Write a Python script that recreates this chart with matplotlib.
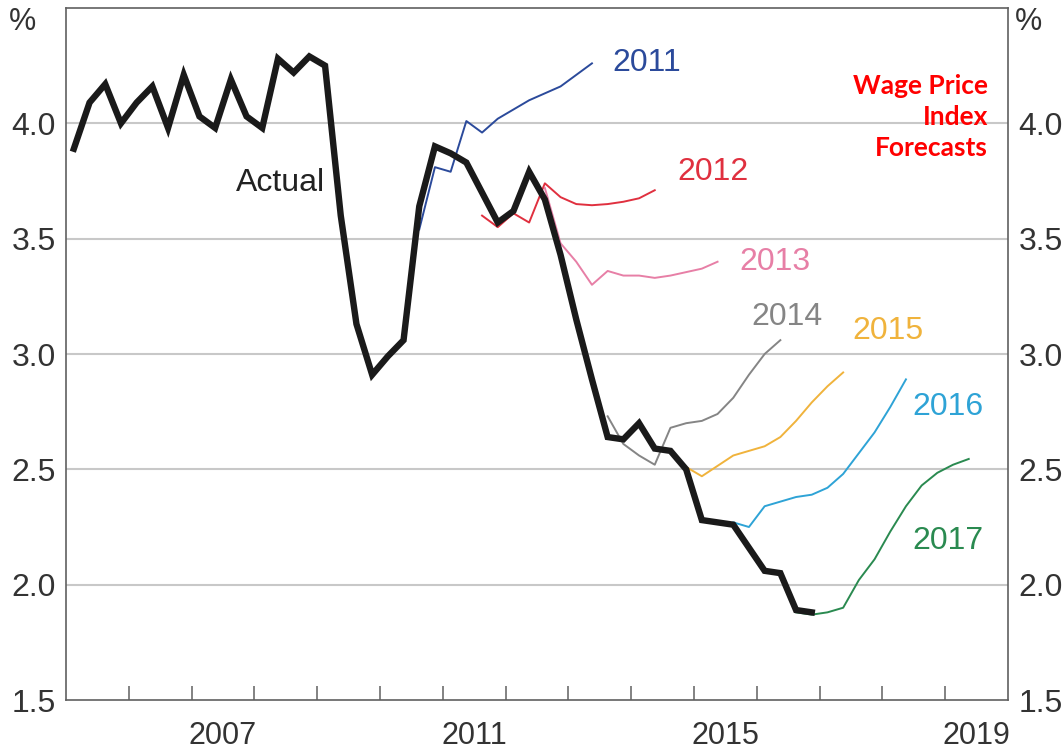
import numpy as np
import matplotlib
matplotlib.use("Agg")
import matplotlib.pyplot as plt
from matplotlib.ticker import FixedLocator

plt.rcParams['font.family'] = ['Liberation Sans', 'DejaVu Sans']

# quarterly data, first quarter plotted at 2005.125
start_year = 2005.125
actual = [3.89, 4.09, 4.17, 4.00, 4.09, 4.16, 3.98, 4.21, 4.03, 3.98, 4.19, 4.03,
          3.98, 4.28, 4.22, 4.29, 4.25, 3.60, 3.13, 2.91, 2.99, 3.06, 3.64, 3.90,
          3.87, 3.83, 3.70, 3.57, 3.62, 3.79, 3.67, 3.43, 3.15, 2.89, 2.64, 2.63,
          2.70, 2.59, 2.58, 2.50, 2.28, 2.27, 2.26, 2.16, 2.06, 2.05, 1.89, 1.88]

# forecasts: (label, index of first quarter in the actual series, values)
fc_labels = ['2011', '2012', '2013', '2014', '2015', '2016', '2017']
fc_start = [22, 26, 30, 34, 38, 42, 46]
fc_2011 = [3.54, 3.81, 3.79, 4.01, 3.96, 4.02, 4.06, 4.10, 4.13, 4.16, 4.21, 4.26]
fc_2012 = [3.60, 3.55, 3.61, 3.57, 3.74, 3.68, 3.65, 3.645, 3.65, 3.66, 3.675, 3.71]
fc_2013 = [3.72, 3.48, 3.40, 3.30, 3.36, 3.34, 3.34, 3.33, 3.34, 3.355, 3.37, 3.40]
fc_2014 = [2.73, 2.61, 2.56, 2.52, 2.68, 2.70, 2.71, 2.74, 2.81, 2.91, 3.00, 3.06]
fc_2015 = [2.58, 2.51, 2.47, 2.515, 2.56, 2.58, 2.60, 2.64, 2.71, 2.79, 2.86, 2.92]
fc_2016 = [2.27, 2.25, 2.34, 2.36, 2.38, 2.39, 2.42, 2.48, 2.57, 2.66, 2.77, 2.89]
fc_2017 = [1.88, 1.87, 1.88, 1.90, 2.02, 2.11, 2.23, 2.34, 2.43, 2.485, 2.52, 2.545]
fc_values = [fc_2011, fc_2012, fc_2013, fc_2014, fc_2015, fc_2016, fc_2017]
fc_colors = ['#2b4a9b', '#e0303f', '#e77fa6', '#858585', '#f0b33c', '#2ea3d6', '#2a8a50']
fc_label_pos = [(2014.25, 4.26), (2015.30, 3.79), (2016.29, 3.40), (2016.48, 3.16),
                (2018.09, 3.10), (2019.04, 2.77), (2019.04, 2.19)]

year_labels = ['2007', '2011', '2015', '2019']
y_ticks = [1.5, 2.0, 2.5, 3.0, 3.5, 4.0]

fig = plt.figure(figsize=(10.64, 7.52), dpi=100)
ax = fig.add_axes([66/1064, 1-700/752, 942/1064, 692/752])

ax.set_xlim(2005, 2020)
ax.set_ylim(1.5, 4.5)

for y in [2.0, 2.5, 3.0, 3.5, 4.0]:
    ax.axhline(y, color='#c8c8c8', lw=1.5, zorder=0)

x_act = start_year + 0.25*np.arange(len(actual))

for lab, st, vals, col in zip(fc_labels, fc_start, fc_values, fc_colors):
    xs = start_year + 0.25*(st + np.arange(len(vals)))
    ax.plot(xs, vals, color=col, lw=1.4, zorder=2)

ax.plot(x_act, actual, color='#1a1a1a', lw=4.6, zorder=3, solid_joinstyle='miter')

for lab, (px, py), col in zip(fc_labels, fc_label_pos, fc_colors):
    ax.text(px, py, lab, color=col, fontsize=23, ha='center', va='center')
ax.text(2008.42, 3.74, 'Actual', color='#222222', fontsize=23, ha='center', va='center')

ax.text(0.979, 0.8425, 'Wage Price\nIndex\nForecasts', transform=ax.transAxes,
        color='#ff0000', fontsize=19, fontweight='bold', ha='right', va='center',
        family=['Lato', 'DejaVu Sans'], linespacing=1.35)

# axes styling
for sp in ax.spines.values():
    sp.set_color('#606060')
    sp.set_linewidth(1.2)

ax.set_yticks(y_ticks)
ax.set_yticklabels([f'{v:.1f}' for v in y_ticks])
ax.tick_params(axis='y', left=False, right=False, labelleft=True, labelright=True,
               labelsize=23, labelcolor='#333333', pad=4)

ax.xaxis.set_major_locator(FixedLocator([int(s) + 0.5 for s in year_labels]))
ax.set_xticklabels(year_labels)
ax.xaxis.set_minor_locator(FixedLocator(range(2006, 2020)))
ax.tick_params(axis='x', which='major', length=0, labelsize=22, labelcolor='#333333', pad=15)
ax.tick_params(axis='x', which='minor', direction='in', length=10, width=1.1, color='#606060')

fig.text(22/1064, 1-22/752, '%', fontsize=22, color='#333333', ha='center', va='center')
fig.text(1028/1064, 1-22/752, '%', fontsize=22, color='#333333', ha='center', va='center')

fig.savefig('out.png', dpi=100)
